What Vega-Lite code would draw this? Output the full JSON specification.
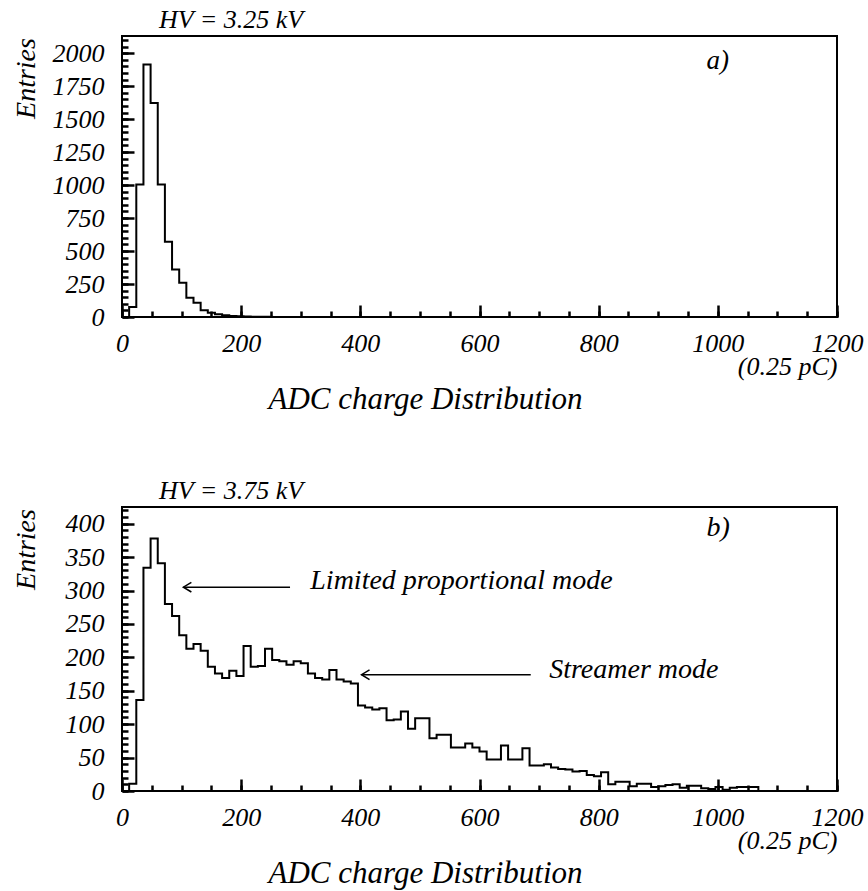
{
  "$schema": "https://vega.github.io/schema/vega-lite/v6.json",
  "background": "white",
  "padding": {"left": 10, "top": 6, "right": 5, "bottom": 5},
  "bounds": "flush",
  "spacing": 190,
  "config": {
    "view": {"stroke": "black", "strokeWidth": 2},
    "font": "Liberation Serif",
    "axis": {
      "labelFont": "Liberation Serif", "labelFontStyle": "italic", "labelFontSize": 26, "labelColor": "black",
      "titleFont": "Liberation Serif", "titleFontStyle": "italic", "titleFontWeight": "normal", "titleFontSize": 28, "titleColor": "black",
      "domain": false, "grid": false, "ticks": true, "tickColor": "#000000", "tickOpacity": 1, "tickWidth": 2.5, "labelFlush": false, "labelOverlap": false, "format": "d", "zindex": 1
    },
    "title": {"font": "Liberation Serif", "fontStyle": "italic", "fontWeight": "normal", "fontSize": 26, "color": "black", "anchor": "start", "frame": "group", "dx": 37, "offset": 3, "baseline": "alphabetic"}
  },
  "datasets": {
    "hv325": [
      {"x": 0, "n": 0}, {"x": 12, "n": 76}, {"x": 24, "n": 1005}, {"x": 36, "n": 1914}, {"x": 48, "n": 1623},
      {"x": 60, "n": 1005}, {"x": 72, "n": 570}, {"x": 84, "n": 361}, {"x": 96, "n": 260}, {"x": 108, "n": 146},
      {"x": 120, "n": 108}, {"x": 132, "n": 51}, {"x": 144, "n": 33}, {"x": 156, "n": 20}, {"x": 168, "n": 13},
      {"x": 180, "n": 8}, {"x": 192, "n": 5}, {"x": 204, "n": 3}, {"x": 216, "n": 2}, {"x": 228, "n": 1},
      {"x": 240, "n": 1}, {"x": 252, "n": 0}, {"x": 1200, "n": 0}
    ],
    "hv375": [
      {"x": 0, "n": 0}, {"x": 12, "n": 11}, {"x": 24, "n": 136}, {"x": 36, "n": 334}, {"x": 48, "n": 378},
      {"x": 60, "n": 341}, {"x": 72, "n": 280}, {"x": 84, "n": 262}, {"x": 96, "n": 233}, {"x": 108, "n": 213},
      {"x": 120, "n": 220}, {"x": 132, "n": 210}, {"x": 144, "n": 186}, {"x": 156, "n": 176}, {"x": 168, "n": 169},
      {"x": 180, "n": 180}, {"x": 192, "n": 172}, {"x": 204, "n": 217}, {"x": 216, "n": 186}, {"x": 228, "n": 187},
      {"x": 240, "n": 213}, {"x": 252, "n": 196}, {"x": 264, "n": 194}, {"x": 276, "n": 189}, {"x": 288, "n": 194},
      {"x": 300, "n": 191}, {"x": 312, "n": 176}, {"x": 324, "n": 169}, {"x": 336, "n": 167}, {"x": 348, "n": 181},
      {"x": 360, "n": 167}, {"x": 372, "n": 164}, {"x": 384, "n": 161}, {"x": 396, "n": 128}, {"x": 408, "n": 125},
      {"x": 420, "n": 122}, {"x": 432, "n": 124}, {"x": 444, "n": 106}, {"x": 456, "n": 107}, {"x": 468, "n": 119},
      {"x": 480, "n": 93}, {"x": 492, "n": 109}, {"x": 504, "n": 109}, {"x": 516, "n": 79}, {"x": 528, "n": 84},
      {"x": 540, "n": 84}, {"x": 552, "n": 65}, {"x": 564, "n": 65}, {"x": 576, "n": 71}, {"x": 588, "n": 65},
      {"x": 600, "n": 59}, {"x": 612, "n": 47}, {"x": 624, "n": 47}, {"x": 636, "n": 68}, {"x": 648, "n": 47},
      {"x": 660, "n": 47}, {"x": 672, "n": 64}, {"x": 684, "n": 38}, {"x": 696, "n": 38}, {"x": 708, "n": 40},
      {"x": 720, "n": 35}, {"x": 732, "n": 33}, {"x": 744, "n": 32}, {"x": 756, "n": 29}, {"x": 768, "n": 30},
      {"x": 780, "n": 24}, {"x": 792, "n": 22}, {"x": 804, "n": 28}, {"x": 816, "n": 10}, {"x": 828, "n": 14},
      {"x": 840, "n": 14}, {"x": 852, "n": 7}, {"x": 864, "n": 11}, {"x": 876, "n": 11}, {"x": 888, "n": 6},
      {"x": 900, "n": 7}, {"x": 912, "n": 9}, {"x": 924, "n": 10}, {"x": 936, "n": 5}, {"x": 948, "n": 8},
      {"x": 960, "n": 8}, {"x": 972, "n": 4}, {"x": 984, "n": 3}, {"x": 996, "n": 6}, {"x": 1008, "n": 2},
      {"x": 1020, "n": 5}, {"x": 1032, "n": 6}, {"x": 1044, "n": 6}, {"x": 1056, "n": 6}, {"x": 1068, "n": 0},
      {"x": 1200, "n": 0}
    ],
    "labelsA": [{"x": 981, "y": 1939, "t": "a)"}],
    "labelsB": [
      {"x": 981, "y": 393, "t": "b)"},
      {"x": 316, "y": 315, "t": "Limited proportional mode"},
      {"x": 717, "y": 181, "t": "Streamer mode"}
    ],
    "arrowsB": [
      {"x": 103, "x2": 282, "y": 305},
      {"x": 402, "x2": 686, "y": 174}
    ]
  },
  "vconcat": [
    {
      "width": 715, "height": 281,
      "title": {"text": "HV = 3.25 kV"},
      "layer": [
        {
          "data": {"name": "hv325"},
          "mark": {"type": "line", "interpolate": "step-after", "color": "black", "strokeWidth": 2},
          "encoding": {
            "x": {"field": "x", "type": "quantitative", "scale": {"domain": [0, 1200], "nice": false, "zero": true},
              "axis": {"orient": "bottom", "offset": -12, "values": [0, 200, 400, 600, 800, 1000, 1200], "tickSize": 12, "labelPadding": 13,
                "title": "ADC charge Distribution", "titleFontSize": 31, "titleX": 303, "titleAlign": "center", "titleY": 94, "titleBaseline": "middle"}},
            "y": {"field": "n", "type": "quantitative", "scale": {"domain": [0, 2130], "nice": false},
              "axis": {"orient": "left", "offset": -12, "values": [0, 250, 500, 750, 1000, 1250, 1500, 1750, 2000], "tickSize": 12, "labelPadding": 18,
                "title": "Entries", "titleX": -108, "titleY": 42, "titleAngle": -90, "titleAlign": "center", "titleBaseline": "middle"}}
          }
        },
        {
          "data": {"name": "labelsA"},
          "mark": {"type": "text", "align": "left", "baseline": "middle", "font": "Liberation Serif", "fontStyle": "italic", "fontSize": 27, "color": "black"},
          "encoding": {
            "x": {"field": "x", "type": "quantitative",
              "axis": {"orient": "bottom", "offset": -6, "values": [0,50,100,150,200,250,300,350,400,450,500,550,600,650,700,750,800,850,900,950,1000,1050,1100,1150,1200], "tickSize": 6, "labels": false,
                "title": "(0.25 pC)", "titleFontSize": 26, "titleX": 715, "titleAlign": "right", "titleY": 55, "titleBaseline": "middle"}},
            "y": {"field": "y", "type": "quantitative",
              "axis": {"orient": "left", "offset": -6, "values": [0,50,100,150,200,250,300,350,400,450,500,550,600,650,700,750,800,850,900,950,1000,1050,1100,1150,1200,1250,1300,1350,1400,1450,1500,1550,1600,1650,1700,1750,1800,1850,1900,1950,2000,2050,2100], "tickSize": 6, "labels": false, "title": null}},
            "text": {"field": "t"}
          }
        }
      ],
      "resolve": {"axis": {"x": "independent", "y": "independent"}}
    },
    {
      "width": 715, "height": 284,
      "title": {"text": "HV = 3.75 kV"},
      "layer": [
        {
          "data": {"name": "hv375"},
          "mark": {"type": "line", "interpolate": "step-after", "color": "black", "strokeWidth": 2},
          "encoding": {
            "x": {"field": "x", "type": "quantitative", "scale": {"domain": [0, 1200], "nice": false, "zero": true},
              "axis": {"orient": "bottom", "offset": -12, "values": [0, 200, 400, 600, 800, 1000, 1200], "tickSize": 12, "labelPadding": 13,
                "title": "ADC charge Distribution", "titleFontSize": 31, "titleX": 303, "titleAlign": "center", "titleY": 94, "titleBaseline": "middle"}},
            "y": {"field": "n", "type": "quantitative", "scale": {"domain": [0, 425], "nice": false},
              "axis": {"orient": "left", "offset": -12, "values": [0, 50, 100, 150, 200, 250, 300, 350, 400], "tickSize": 12, "labelPadding": 18,
                "title": "Entries", "titleX": -108, "titleY": 42, "titleAngle": -90, "titleAlign": "center", "titleBaseline": "middle"}}
          }
        },
        {
          "data": {"name": "arrowsB"},
          "mark": {"type": "rule", "color": "black", "strokeWidth": 1.5},
          "encoding": {
            "x": {"field": "x", "type": "quantitative", "axis": null},
            "x2": {"field": "x2"},
            "y": {"field": "y", "type": "quantitative", "axis": null}
          }
        },
        {
          "data": {"name": "arrowsB"},
          "mark": {"type": "point", "shape": "M 2 -1.2 L 0 0 L 2 1.2", "size": 64, "filled": false, "stroke": "black", "strokeWidth": 1.5, "opacity": 1},
          "encoding": {
            "x": {"field": "x", "type": "quantitative", "axis": null},
            "y": {"field": "y", "type": "quantitative", "axis": null}
          }
        },
        {
          "data": {"name": "labelsB"},
          "mark": {"type": "text", "align": "left", "baseline": "middle", "font": "Liberation Serif", "fontStyle": "italic", "fontSize": 28, "color": "black"},
          "encoding": {
            "x": {"field": "x", "type": "quantitative",
              "axis": {"orient": "bottom", "offset": -6, "values": [0,50,100,150,200,250,300,350,400,450,500,550,600,650,700,750,800,850,900,950,1000,1050,1100,1150,1200], "tickSize": 6, "labels": false,
                "title": "(0.25 pC)", "titleFontSize": 26, "titleX": 715, "titleAlign": "right", "titleY": 55, "titleBaseline": "middle"}},
            "y": {"field": "y", "type": "quantitative",
              "axis": {"orient": "left", "offset": -6, "values": [0,10,20,30,40,50,60,70,80,90,100,110,120,130,140,150,160,170,180,190,200,210,220,230,240,250,260,270,280,290,300,310,320,330,340,350,360,370,380,390,400,410,420], "tickSize": 6, "labels": false, "title": null}},
            "text": {"field": "t"}
          }
        }
      ],
      "resolve": {"axis": {"x": "independent", "y": "independent"}}
    }
  ]
}
